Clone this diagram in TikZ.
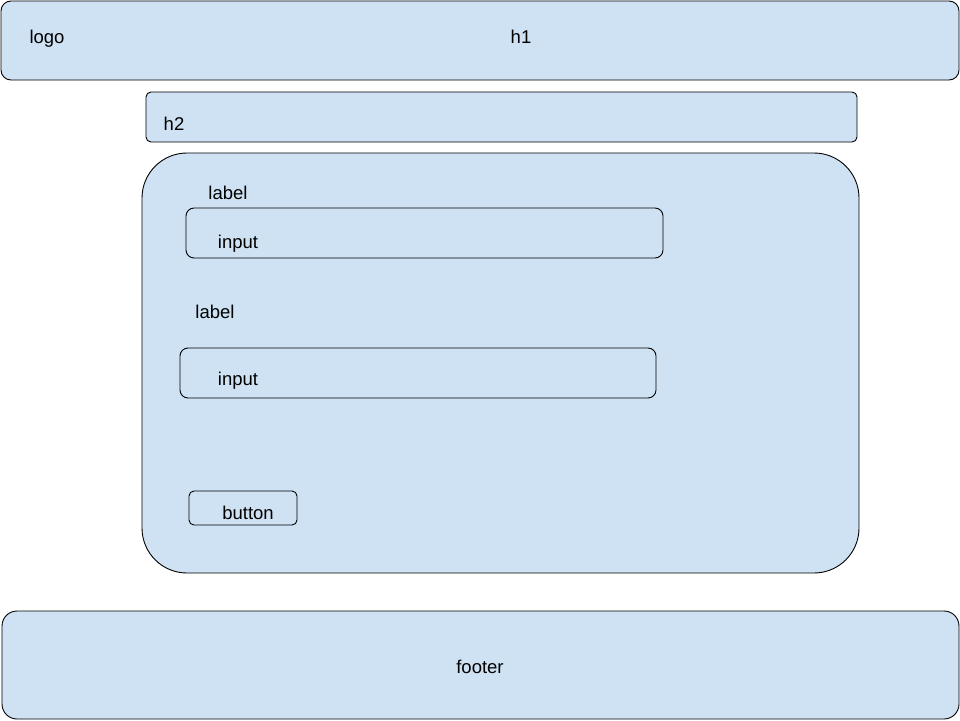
\documentclass[tikz,border=0pt]{standalone}
\usepackage{fontspec}
\setmainfont{Liberation Sans}
\definecolor{boxfill}{HTML}{CFE2F3}
\begin{document}
\begin{tikzpicture}[x=1pt,y=-1pt,
  panel/.style={draw=black,fill=boxfill,line width=0.9pt},
  txt/.style={inner sep=0pt,yshift=-4pt,text height=0.72em,text depth=0.21em,font=\fontsize{18.5}{22}\selectfont}]
\useasboundingbox (0,0) rectangle (960,720);
\fill[white] (0,0) rectangle (960,720);
% header
\draw[panel,rounded corners=10pt] (1,1) rectangle (959,80);
\node[txt] (logo) at (47,37) {logo};
\node[txt] (h1) at (521,37) {h1};
% h2
\draw[panel,rounded corners=5pt] (146,92) rectangle (857,142);
\node[txt] (h2) at (174,124) {h2};
% form
\draw[panel,rounded corners=45pt] (142,153) rectangle (859,573);
\node[txt] (label1) at (228,193) {label};
\draw[panel,rounded corners=8pt] (186,208) rectangle (663,258);
\node[txt] (input1) at (238,242) {input};
\node[txt] (label2) at (215,312) {label};
\draw[panel,rounded corners=8pt] (180,348) rectangle (656,398);
\node[txt] (input2) at (238,379) {input};
\draw[panel,rounded corners=5pt] (189,491) rectangle (297,525);
\node[txt] (button) at (248,513) {button};
% footer
\draw[panel,rounded corners=15pt] (2,611) rectangle (959,719);
\node[txt] (footer) at (480,667) {footer};
\end{tikzpicture}
\end{document}
